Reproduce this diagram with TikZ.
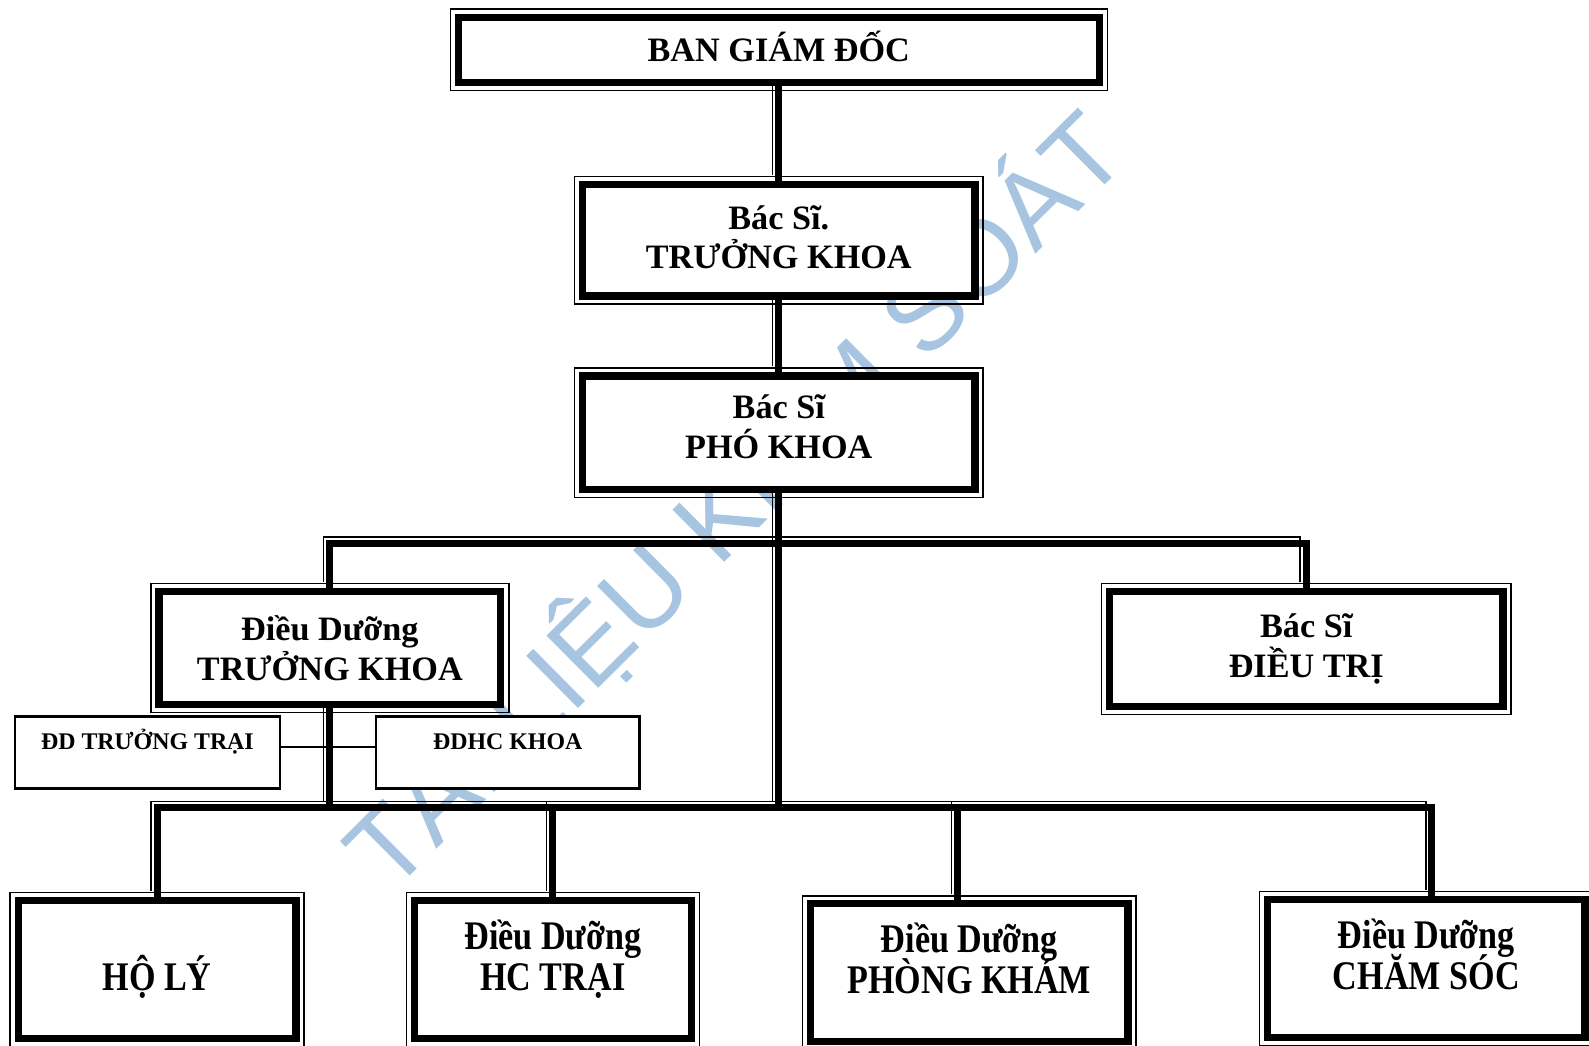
\documentclass[tikz,border=0pt]{standalone}
\usepackage{fontspec}
\setmainfont{Liberation Serif}
\newfontfamily\narrowserif{Liberation Serif}[FakeStretch=0.84]
\newfontfamily\stampfont{Liberation Sans}
\usepackage{xcolor}
\definecolor{StampBlue}{HTML}{A7C4E1}
\newcommand\tightlines{\lineskiplimit=-100pt\relax}
\usepackage{tikz}
\usetikzlibrary{backgrounds}

\begin{document}
\begin{tikzpicture}[x=0.01cm,y=-0.01cm,
    unit/.style={draw,line width=2pt,fill=white,align=center,inner sep=0pt,
      font=\bfseries\fontsize{9.6}{11.1}\selectfont\tightlines},
    staff/.style={draw,line width=2pt,fill=white,align=center,inner sep=0pt,
      text height=0.88cm,text depth=0.48cm,
      font=\narrowserif\bfseries\fontsize{11.4}{11.4}\selectfont\tightlines},
    aide/.style={draw,line width=0.6pt,fill=white,inner sep=0pt,text height=0.33cm,text depth=0.38cm,
      font=\bfseries\fontsize{6.7}{8}\selectfont},
    frame/.style={line width=0.4pt},
    link/.style={line width=2pt},
    echo/.style={line width=0.4pt,transform canvas={shift={(-6,-6)}}},
    stamp/.style={rotate=44.8,anchor=base,text=StampBlue,inner sep=0pt,
      font=\stampfont\fontsize{30}{36}\selectfont}
  ]
    \useasboundingbox (0,0) rectangle (1568,1032);
    \node[unit,minimum width=6.32cm,minimum height=0.64cm,text height=0.23cm,text depth=0cm] (bgd) at (768.5,49) {BAN GIÁM ĐỐC};
    \node[unit,minimum width=3.87cm,minimum height=1.10cm,text depth=0.06cm] (bstk) at (768.5,237) {Bác Sĩ.\\TRƯỞNG KHOA};
    \node[unit,minimum width=3.87cm,minimum height=1.12cm,text depth=0.12cm] (bspk) at (768.5,427) {Bác Sĩ\\PHÓ KHOA};
    \node[unit,minimum width=3.37cm,minimum height=1.11cm] (ddtk) at (325.5,639.5) {Điều Dưỡng\\TRƯỞNG KHOA};
    \node[unit,minimum width=3.88cm,minimum height=1.13cm] (bsdt) at (1289,640.5) {Bác Sĩ\\ĐIỀU TRỊ};
    \node[aide,minimum width=2.61cm] (tdt) at (145.5,742.5) {ĐD TRƯỞNG TRẠI};
    \node[aide,minimum width=2.60cm] (ddhc) at (501,742.5) {ĐDHC KHOA};
    \node[staff,minimum width=2.74cm] (holy) at (155,957) {HỘ LÝ};
    \node[staff,minimum width=2.73cm] (hctr) at (545.5,957) {Điều Dưỡng\\HC TRẠI};
    \node[staff,minimum width=3.13cm] (pk) at (956.5,960) {Điều Dưỡng\\PHÒNG KHÁM};
    \node[staff,minimum width=3.13cm] (cs) at (1407.5,956) {Điều Dưỡng\\CHĂM SÓC};
    \foreach \n in {bgd,bstk,bspk,ddtk,bsdt,holy,hctr,pk,cs}
      \draw[frame] ([shift={(-4.5,-4.5)}]\n.north west) rectangle ([shift={(4.5,4.5)}]\n.south east);
    \begin{scope}[on background layer]
      \node[stamp] (mark) at (751,520) {TÀI LIỆU KIỂM SOÁT};
      \coordinate (hub1) at (768.5,536);
      \coordinate (hub2) at (768.5,797);
      \foreach \s in {link,echo}{
        \draw[\s] (bgd.south) -- (bstk.north);
        \draw[\s] (bstk.south) -- (bspk.north);
        \draw[\s] (bspk.south) -- (hub2);
        \draw[\s] (ddtk.north) |- (hub1) -| (bsdt.north);
        \draw[\s] (ddtk.south) -- (ddtk.south |- hub2);
        \draw[\s] (holy.north) |- (hub2);
        \draw[\s] (hctr.north) |- (hub2);
        \draw[\s] ([xshift=-0.115cm]pk.north) |- (hub2);
        \draw[\s] ([xshift=0.055cm]cs.north) |- (hub2);
      }
      \draw[frame] ([yshift=0.055cm]tdt.east) -- ([yshift=0.055cm]ddhc.west);
    \end{scope}
  \end{tikzpicture}
\end{document}
